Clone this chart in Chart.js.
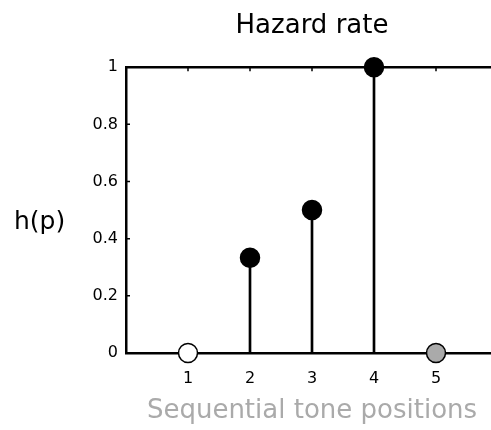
<!DOCTYPE html>
<html>
<head>
<meta charset="utf-8">
<title>Hazard rate</title>
<script src="https://cdn.jsdelivr.net/npm/chart.js@4/dist/chart.umd.min.js"></script>
<style>
  html, body { margin: 0; padding: 0; background: #fff; overflow: hidden; }
  #wrap { width: 491px; height: 430px; overflow: hidden; }
</style>
</head>
<body>
<div id="wrap"><canvas id="hazardChart" width="509" height="430"></canvas></div>
<script>
// tone positions and hazard value at each one
const positions = [1, 2, 3, 4, 5];
const hazard = [0, 0.333, 0.5, 1, 0];
const markerFill = ['#ffffff', '#000000', '#000000', '#000000', '#aaaaaa'];
const xTicks = [1, 2, 3, 4, 5];
const yTicks = [0, 0.2, 0.4, 0.6, 0.8, 1];
const yTickLabels = ['0', '0.2', '0.4', '0.6', '0.8', '1'];

Chart.defaults.font.family = "'DejaVu Sans', sans-serif";
Chart.defaults.color = '#000';

const points = positions.map((p, i) => ({ x: p, y: hazard[i] }));

// top spine, inward tick marks and the horizontal y label
const frameTicks = {
    id: 'frameTicks',
    beforeDatasetsDraw(chart) {
        const { ctx, chartArea: a, scales: { x, y } } = chart;
        ctx.save();
        ctx.strokeStyle = '#000';
        ctx.lineWidth = 2.5;
        ctx.beginPath();
        ctx.moveTo(a.left - 1, a.top);
        ctx.lineTo(a.right, a.top);
        ctx.stroke();

        ctx.lineWidth = 1.5;
        ctx.beginPath();
        xTicks.forEach(v => {
            const px = x.getPixelForValue(v);
            ctx.moveTo(px, a.top);
            ctx.lineTo(px, a.top + 4);
            ctx.moveTo(px, a.bottom);
            ctx.lineTo(px, a.bottom - 4);
        });
        yTicks.forEach(v => {
            const py = y.getPixelForValue(v);
            ctx.moveTo(a.left, py);
            ctx.lineTo(a.left + 4, py);
        });
        ctx.stroke();
        ctx.restore();
    },
    afterDraw(chart) {
        const { ctx } = chart;
        ctx.save();
        ctx.font = "25px 'DejaVu Sans', sans-serif";
        ctx.fillStyle = '#000';
        ctx.textAlign = 'left';
        ctx.textBaseline = 'alphabetic';
        ctx.fillText('h(p)', 14, 229);
        ctx.restore();
    }
};

new Chart(document.getElementById('hazardChart'), {
    type: 'scatter',
    data: {
        datasets: [
            {
                type: 'bar',
                label: 'stems',
                data: points,
                backgroundColor: '#000',
                borderWidth: 0,
                barThickness: 2,
                grouped: false,
                order: 2
            },
            {
                type: 'scatter',
                label: 'h(p)',
                data: points,
                pointRadius: 9.5,
                pointBackgroundColor: markerFill,
                pointBorderColor: '#000',
                pointBorderWidth: 1.5,
                clip: false,
                order: 1
            }
        ]
    },
    options: {
        responsive: false,
        animation: false,
        layout: { padding: { left: 0, right: 4, top: 0, bottom: 0 } },
        scales: {
            x: {
                type: 'linear',
                min: 0,
                max: 6,
                offset: false,
                grid: { display: true, drawOnChartArea: false, drawTicks: false },
                border: { display: true, color: '#000', width: 2.5 },
                afterBuildTicks: s => { s.ticks = xTicks.map(v => ({ value: v })); },
                afterFit: s => { s.height = 77; },
                ticks: { font: { size: 16 }, padding: 16, maxRotation: 0 },
                title: {
                    display: true,
                    text: 'Sequential tone positions',
                    color: '#aaaaaa',
                    font: { size: 26 },
                    padding: { top: 0, bottom: 3 }
                }
            },
            y: {
                type: 'linear',
                min: 0,
                max: 1,
                grid: { display: true, drawOnChartArea: false, drawTicks: false },
                border: { display: true, color: '#000', width: 2.5 },
                afterBuildTicks: s => { s.ticks = yTicks.map(v => ({ value: v })); },
                afterFit: s => { s.width = 126; },
                ticks: {
                    font: { size: 16 },
                    padding: 8,
                    callback: (v, i) => yTickLabels[i]
                }
            }
        },
        plugins: {
            legend: { display: false },
            tooltip: { enabled: false },
            title: {
                display: true,
                text: 'Hazard rate',
                fullSize: false,
                color: '#000',
                font: { size: 26, weight: 'normal' },
                padding: { top: 11, bottom: 25 }
            }
        }
    },
    plugins: [frameTicks]
});
</script>
</body>
</html>
